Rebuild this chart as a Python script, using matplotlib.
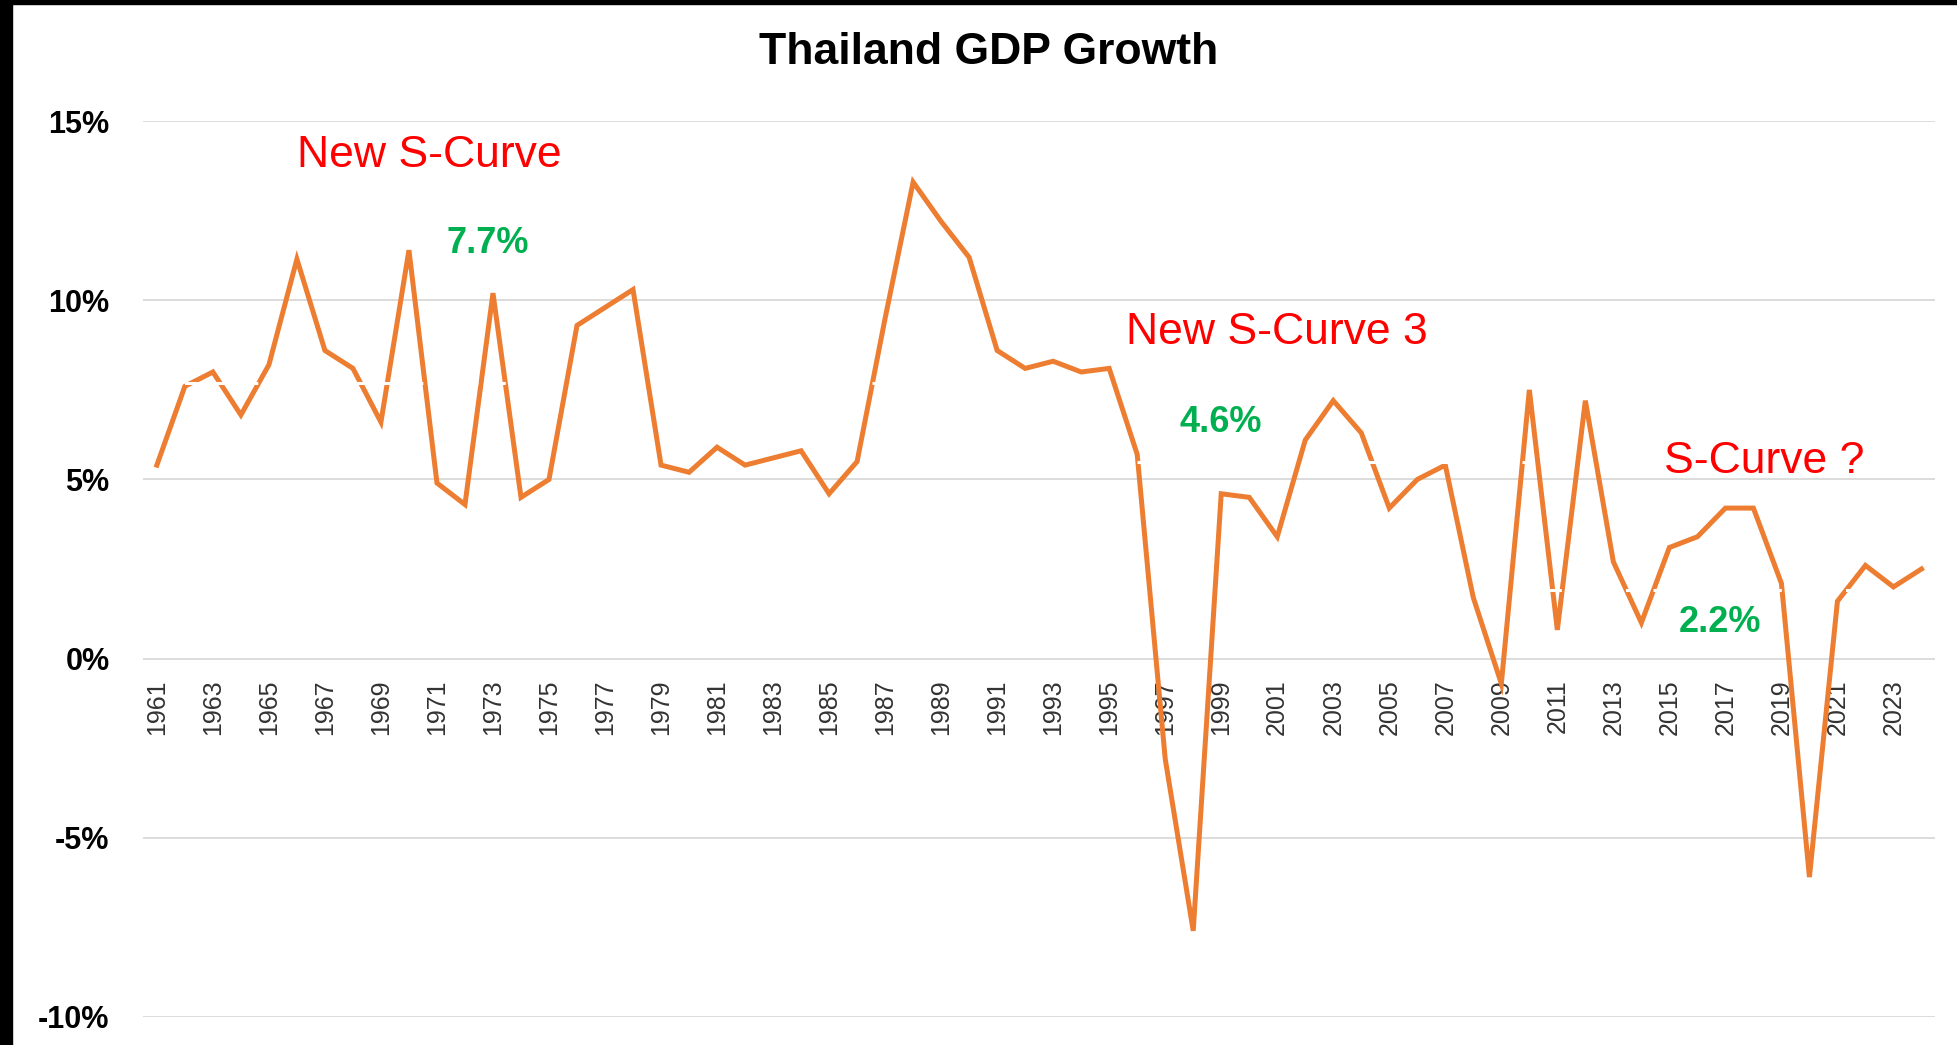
import matplotlib.pyplot as plt
import matplotlib.patches as mpatches
import numpy as np

plt.rcParams['font.family'] = ['Liberation Sans', 'DejaVu Sans']

years = np.arange(1961, 2025)
growth = [5.4, 7.6, 8.0, 6.8, 8.2, 11.15, 8.6, 8.1, 6.6, 11.4,
          4.9, 4.3, 10.2, 4.5, 5.0, 9.3, 9.8, 10.3, 5.4, 5.2,
          5.9, 5.4, 5.6, 5.8, 4.6, 5.5, 9.5, 13.3, 12.2, 11.2,
          8.6, 8.1, 8.3, 8.0, 8.1, 5.7, -2.8, -7.6, 4.6, 4.5,
          3.4, 6.1, 7.2, 6.3, 4.2, 5.0, 5.4, 1.7, -0.7, 7.5,
          0.8, 7.2, 2.7, 1.0, 3.1, 3.4, 4.2, 4.2, 2.1, -6.1,
          1.6, 2.6, 2.0, 2.5]

# hidden white "average" series that only shows where it crosses the line
avg_start = [1961, 1996, 2010.5]
avg_end = [1995, 2010, 2021.5]
avg_level = [7.7, 5.5, 1.9]

labels_red = ["New S-Curve", "New S-Curve 3", "S-Curve ?"]
red_x = [1966.0, 1995.6, 2014.8]
red_y = [14.05, 9.1, 5.5]

labels_green = ["7.7%", "4.6%", "2.2%"]
green_x = [1972.8, 1999.0, 2016.8]
green_y = [11.6, 6.6, 1.0]

fig = plt.figure(figsize=(19.57, 10.45), dpi=100)
ax = fig.add_axes([0.073, 0.027, 0.916, 0.857])

ax.plot(years, growth, color='#ED7D31', lw=3.6, zorder=3, solid_joinstyle='miter')
for s, e, lv in zip(avg_start, avg_end, avg_level):
    ax.plot([s, e], [lv, lv], color='white', lw=2.2, ls=(0, (6, 3)), zorder=4)

# category axis crosses at 0 (set before tick labels, it resets the ticks)
ax.spines['bottom'].set_position(('data', 0))
for sp in ax.spines.values():
    sp.set_visible(False)

ax.set_xlim(1960.5, 2024.5)
ax.set_ylim(-10, 15)
ax.set_yticks(np.arange(-10, 16, 5))
ax.set_yticklabels([f"{v}%" for v in range(-10, 16, 5)])
ax.set_xticks(years[::2])
ax.set_xticklabels([str(y) for y in years[::2]])
ax.tick_params(axis='y', length=0, pad=24, labelsize=22, labelcolor='black')
ax.tick_params(axis='x', length=0, pad=15, labelsize=18, labelcolor='#333333',
               labelrotation=90)
for lb in ax.get_yticklabels():
    lb.set_fontweight('bold')
ax.grid(axis='y', color='#D9D9D9', lw=1.3)
ax.set_axisbelow(True)

for t, x, y in zip(labels_red, red_x, red_y):
    ax.text(x, y, t, color='#FF0000', fontsize=32, ha='left', va='center')
for t, x, y in zip(labels_green, green_x, green_y):
    ax.text(x, y, t, color='#00B050', fontsize=26, fontweight='bold',
            ha='center', va='center')

fig.text(0.505, 0.950, "Thailand GDP Growth", fontsize=32, fontweight='bold',
         ha='center', va='center')

# black frame strips on the left and top of the screenshot
fig.patches.append(mpatches.Rectangle((0, 0), 0.006, 1, transform=fig.transFigure,
                                      color='black', zorder=10))
fig.patches.append(mpatches.Rectangle((0, 0.996), 1, 0.004, transform=fig.transFigure,
                                      color='black', zorder=10))

fig.savefig("out.png", dpi=100)
